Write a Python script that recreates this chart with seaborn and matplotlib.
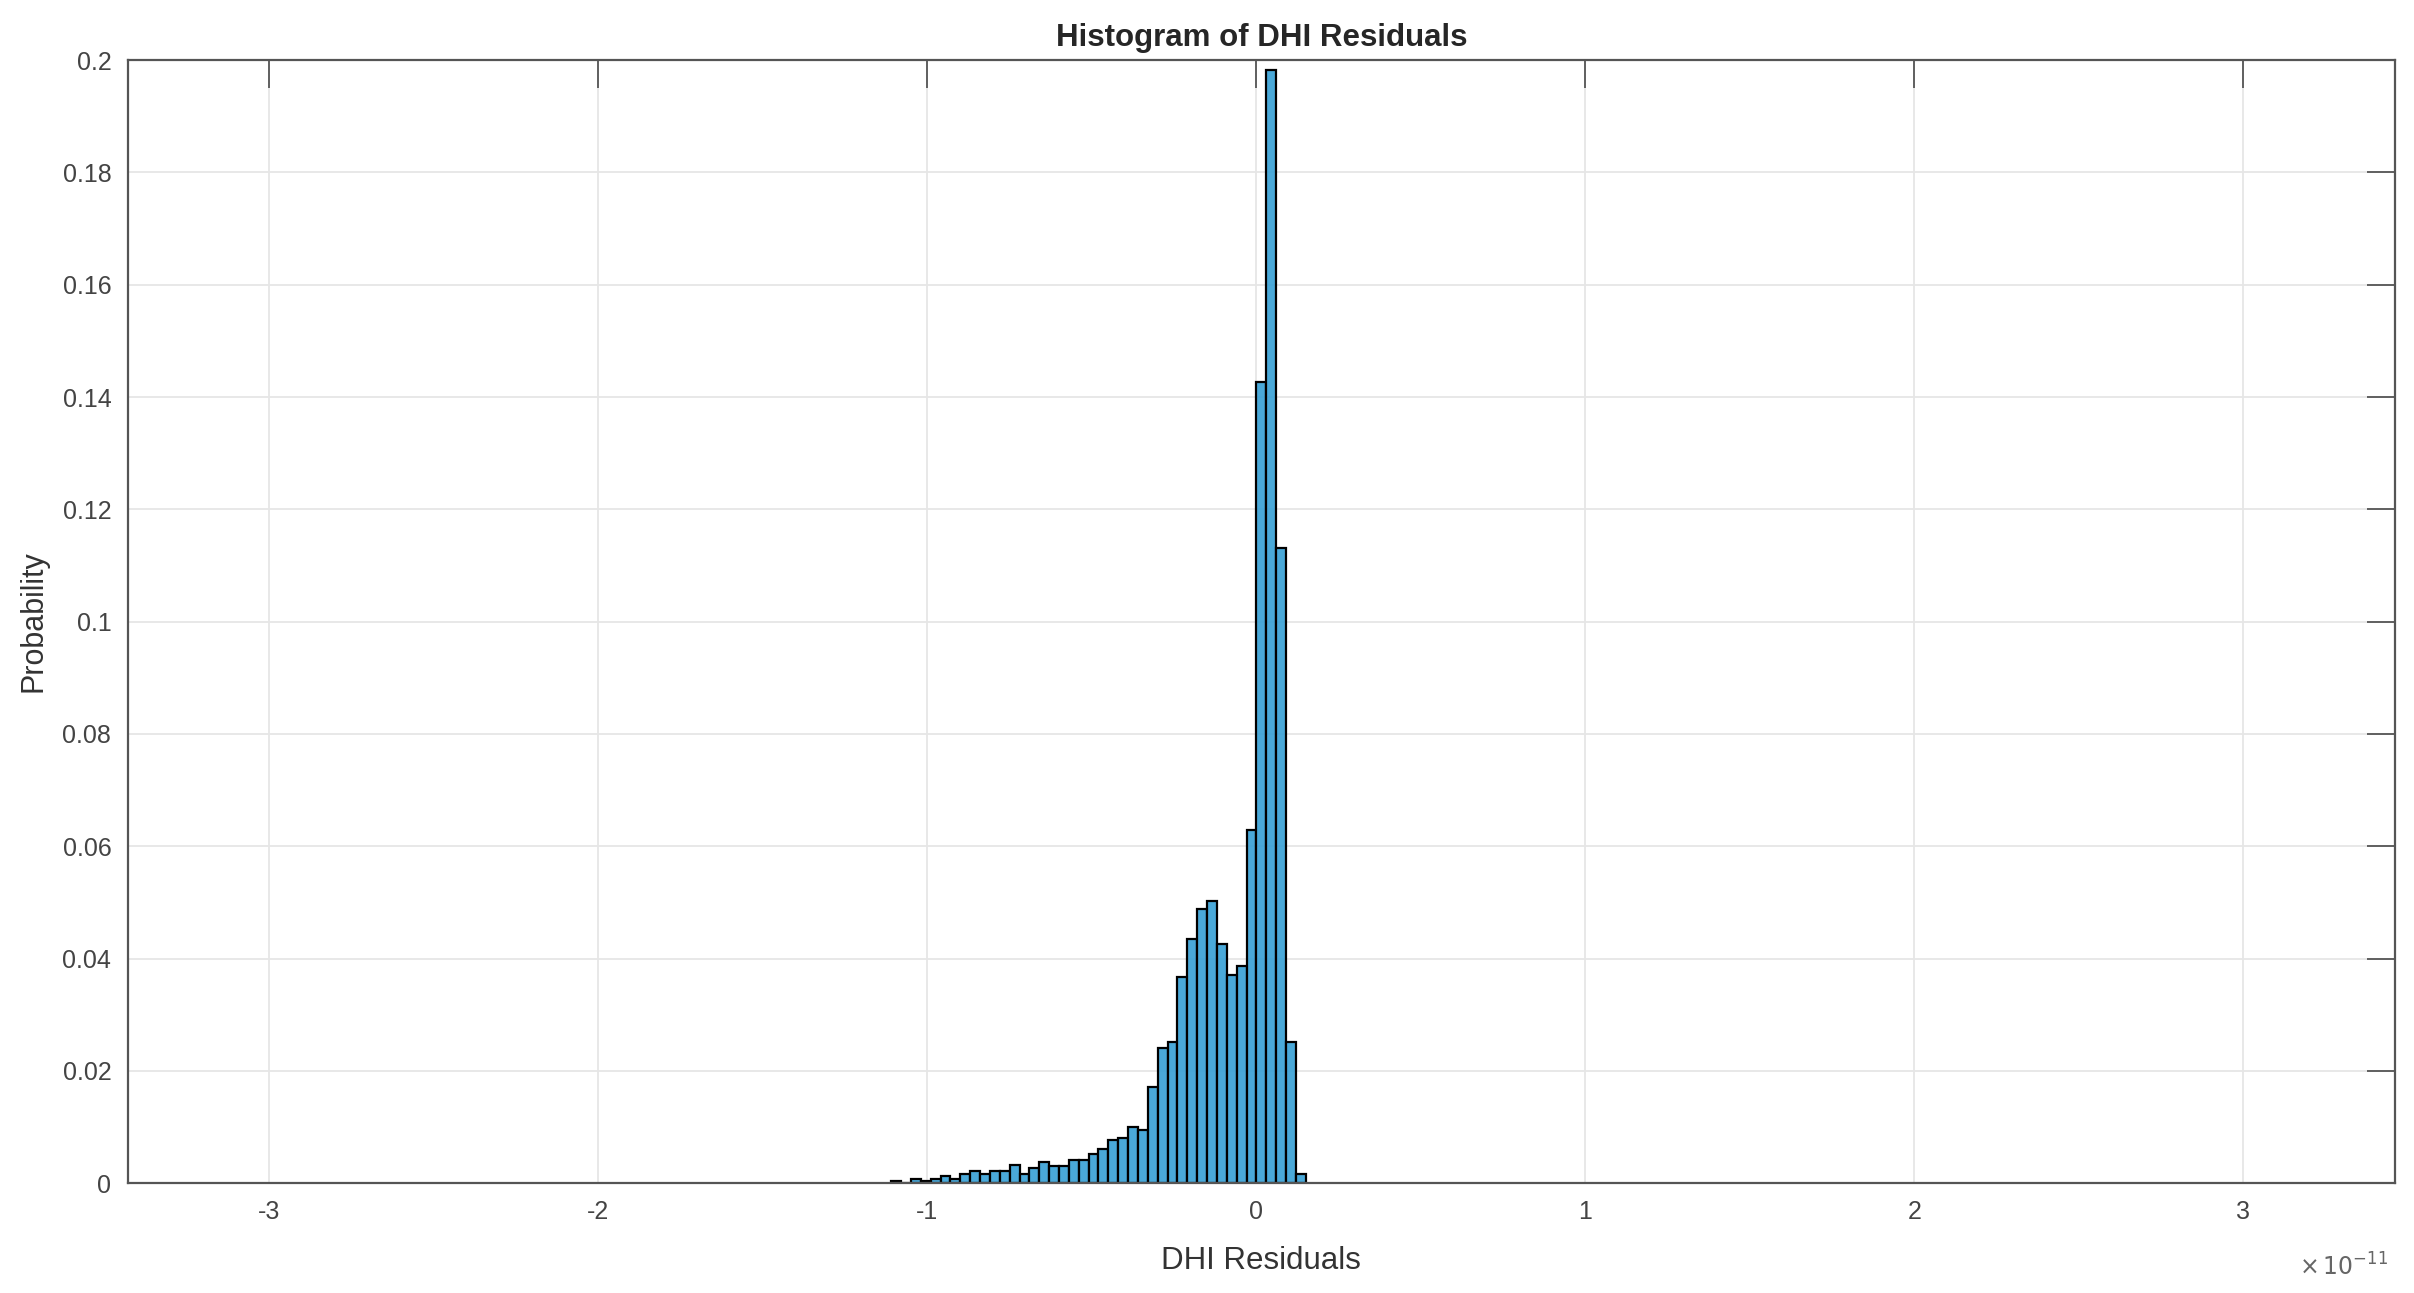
import numpy as np
import pandas as pd
import matplotlib
matplotlib.use("Agg")
import matplotlib.pyplot as plt
import seaborn as sns

# bin edges of the histogram, bin width 0.03e-11 from -1.11e-11 to 0.15e-11
bin_width = 0.03e-11
bin_start = -1.11e-11
# probability per bin (left to right)
probs = [0.0004, 0.0001, 0.0007, 0.0004, 0.0007, 0.0013, 0.0007, 0.0017,
         0.0022, 0.0017, 0.0022, 0.0022, 0.0032, 0.0017, 0.0027, 0.0037,
         0.0031, 0.0031, 0.0041, 0.0042, 0.0052, 0.0061, 0.0077, 0.0080,
         0.0100, 0.0095, 0.0172, 0.0241, 0.0251, 0.0367, 0.0435, 0.0489,
         0.0502, 0.0425, 0.0371, 0.0386, 0.0629, 0.1427, 0.1983, 0.1131,
         0.0251, 0.0016]
edges = bin_start + bin_width * np.arange(len(probs) + 1)
centers = (edges[:-1] + edges[1:]) / 2
df = pd.DataFrame({'resid': centers, 'prob': probs})

xticks = [-3e-11, -2e-11, -1e-11, 0, 1e-11, 2e-11, 3e-11]
yticks = [0, 0.02, 0.04, 0.06, 0.08, 0.1, 0.12, 0.14, 0.16, 0.18, 0.2]

sns.set_style("white")
plt.rcParams['font.family'] = ['Liberation Sans', 'DejaVu Sans']

fig = plt.figure(figsize=(24.14, 12.93), dpi=100)
ax = fig.add_axes([0.053, 0.085, 0.939, 0.8685])

sns.histplot(data=df, x='resid', weights='prob', bins=list(edges), stat='count', ax=ax,
             color='#3aa2d6', alpha=0.92, edgecolor='black', linewidth=1.6)

ax.set_xlim(-3.43e-11, 3.46e-11)
ax.set_ylim(0, 0.2)
ax.set_xticks(xticks)
ax.set_yticks(yticks)
ax.xaxis.set_major_formatter(plt.FuncFormatter(lambda v, _: f'{v / 1e-11:g}'))
ax.yaxis.set_major_formatter(plt.FuncFormatter(lambda v, _: f'{v:g}'))

ax.grid(True, color='#e6e6e6', linewidth=1.3)
ax.set_axisbelow(True)
ax.tick_params(direction='in', length=20, width=1.3, colors='#555555',
               labelcolor='#444444', labelsize=18, top=True, right=True, pad=12)
for s in ax.spines.values():
    s.set_color('#555555')
    s.set_linewidth(1.6)

ax.set_xlabel('DHI Residuals', fontsize=22.5, color='#333333', labelpad=16)
ax.set_ylabel('Probability', fontsize=22, color='#333333', labelpad=10)
ax.set_title('Histogram of DHI Residuals', fontsize=22.5, fontweight='bold', pad=10)
ax.text(0.997, -0.075, r'$\times\,10^{-11}$', transform=ax.transAxes,
        ha='right', va='center', fontsize=17, color='#666666')

fig.savefig('out.png', dpi=100)
